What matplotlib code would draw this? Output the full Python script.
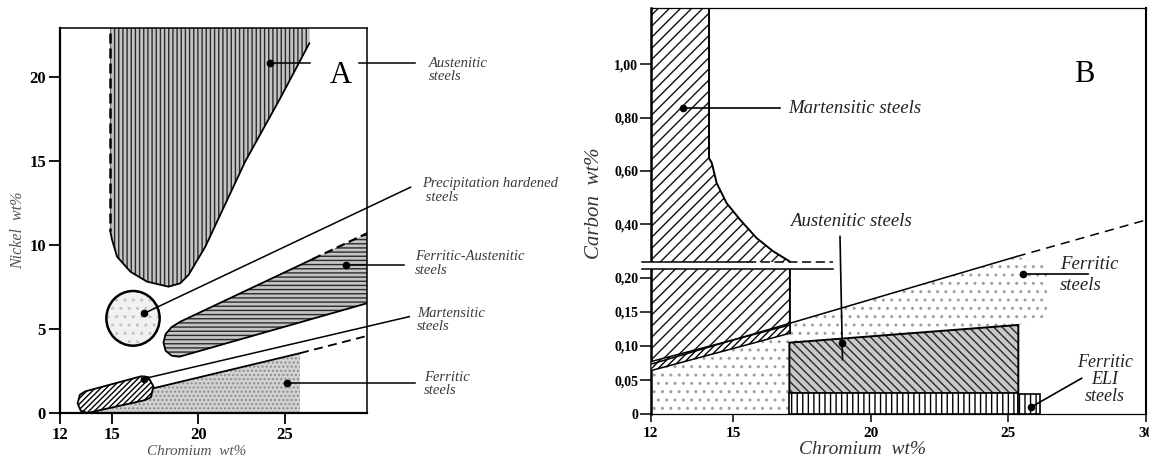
import numpy as np
import matplotlib.pyplot as plt
from matplotlib.patches import Polygon, Ellipse

plt.rcParams['font.family'] = ['Liberation Serif', 'DejaVu Serif']
plt.rcParams['hatch.linewidth'] = 1.0

# ---------------- panel A : Nickel vs Chromium ----------------
a_xticks = [12, 15, 20, 25]
a_yticks = [0, 5, 10, 15, 20]

# austenitic field (first edge dashed)
a_aus_cr = [14.91, 14.91, 15.01, 15.30, 16.07, 17.03, 18.27, 18.95, 19.43, 20.4, 22.7, 24.72, 26.41, 26.41]
a_aus_ni = [23.5, 10.8, 10.3, 9.3, 8.41, 7.82, 7.52, 7.72, 8.22, 9.9, 14.95, 18.7, 21.98, 23.5]

# precipitation hardened (circle)
a_ph_center = (16.22, 5.64)
a_ph_size = (3.08, 3.25)

# ferritic-austenitic band (last edge dashed)
a_fa_cr = [29.76, 18.9, 18.45, 18.1, 17.98, 18.1, 18.45, 18.95, 26.6, 29.76]
a_fa_ni = [6.54, 3.36, 3.42, 3.72, 4.2, 4.7, 5.12, 5.44, 9.16, 10.7]

# martensitic capsule
a_mar_cr = [13.02, 13.15, 13.45, 16.7, 17.1, 17.4, 17.25, 16.9, 13.6, 13.2]
a_mar_ni = [0.59, 1.1, 1.3, 2.2, 2.15, 1.6, 0.95, 0.78, 0.02, 0.15]

# ferritic field and its upper boundary
a_fer_cr = [13.6, 17.41, 25.87, 25.87]
a_fer_ni = [0.0, 1.49, 3.57, 0.0]
a_ferline_cr = [17.41, 25.87, 29.76]
a_ferline_ni = [1.49, 3.57, 4.6]

# leaders: (start x, start y, end x, end y)
a_labels = ['Austenitic\nsteels', 'Precipitation hardened\n steels', 'Ferritic-Austenitic\nsteels',
            'Martensitic\nsteels', 'Ferritic\nsteels']
a_lead_x0 = [29.3, 16.87, 28.53, 16.83, 25.1]
a_lead_y0 = [20.8, 5.94, 8.81, 2.05, 1.82]
a_lead_x1 = [32.5, 32.26, 31.88, 32.18, 32.51]
a_lead_y1 = [20.8, 13.43, 8.81, 5.74, 1.82]
a_lab_x = [33.31, 32.9, 32.51, 32.64, 33.03]
a_lab_y = [20.4, 13.24, 8.91, 5.53, 1.75]
a_dots_x = [24.14, 16.87, 28.53, 16.83, 25.1]
a_dots_y = [20.8, 5.94, 8.81, 2.05, 1.82]

# ---------------- panel B : Carbon vs Chromium ----------------
b_xticks = [12, 15, 20, 25, 30]
b_yticks = [0, 0.05, 0.10, 0.15, 0.20, 0.40, 0.60, 0.80, 1.00]
b_yticklabels = ['0', '0,05', '0,10', '0,15', '0,20', '0,40', '0,60', '0,80', '1,00']

b_mar_cr = [12, 14.12, 14.12, 14.22, 14.40, 14.76, 15.25, 15.85, 16.46, 17.06, 17.06, 12]
b_mar_c = [1.3, 1.3, 0.648, 0.630, 0.554, 0.479, 0.417, 0.348, 0.298, 0.260, 0.1186, 0.0638]
b_band_cr = [12, 17.06, 17.06, 12]
b_band_c = [0.0638, 0.1186, 0.1307, 0.077]

b_fer_cr = [12, 12, 25.3, 26.4, 26.4, 17.06, 17.06]
b_fer_c = [0, 0.073, 0.279, 0.25, 0.135, 0.105, 0]
b_ferline_cr = [12, 25.3, 30]
b_ferline_c = [0.0732, 0.279, 0.416]

b_aus_cr = [17.04, 25.36, 25.36, 17.04]
b_aus_c = [0.0307, 0.0307, 0.1307, 0.1048]

b_eli_left = [17.04, 25.36]
b_eli_width = [8.32, 0.79]
b_eli_top = [0.0307, 0.029]

b_break_x = [11.67, 18.64]
b_break_lo, b_break_hi = 0.2315, 0.2578

b_labels = ['Martensitic steels', 'Austenitic steels', 'Ferritic\nsteels', 'Ferritic\nELI\nsteels']
b_lab_x = [17.0, 19.27, 26.87, 28.51]
b_lab_y = [0.836, 0.410, 0.210, 0.0502]
b_lead_x0 = [13.18, 18.88, 25.54, 25.81]
b_lead_y0 = [0.836, 0.354, 0.2128, 0.0102]
b_lead_x1 = [16.70, 18.97, 27.9, 27.66]
b_lead_y1 = [0.836, 0.080, 0.2128, 0.0527]
b_dots_x = [13.18, 18.95, 25.54, 25.81]
b_dots_y = [0.836, 0.104, 0.2128, 0.0102]


def region(ax, xs, ys, hatch, hc, face='white', z=2):
    pts = np.column_stack([xs, ys])
    ax.add_patch(Polygon(pts, closed=True, facecolor=face, edgecolor=hc, lw=0, hatch=hatch, zorder=z))


fig = plt.figure(figsize=(11.49, 4.59), dpi=100)

# ======== A ========
axA = fig.add_axes([0.0522, 0.0996, 0.2675, 0.8388])
axA.set_xlim(12, 29.76)
axA.set_ylim(0, 22.87)

region(axA, a_fer_cr, a_fer_ni, '....', '#8c8c8c', face='#d2d2d2')
region(axA, a_aus_cr, a_aus_ni, '||||', '#2a2a2a', face='#c4c4c4')
axA.plot(a_aus_cr[:2], a_aus_ni[:2], color='k', lw=1.8, ls=(0, (4, 2)), zorder=3)
axA.plot(a_aus_cr[1:-1], a_aus_ni[1:-1], color='k', lw=1.3, zorder=3)

region(axA, a_fa_cr, a_fa_ni, '----', '#2a2a2a', face='#c4c4c4')
axA.plot(a_fa_cr[:-1], a_fa_ni[:-1], color='k', lw=1.3, zorder=3)
axA.plot(a_fa_cr[-2:], a_fa_ni[-2:], color='k', lw=1.6, ls=(0, (4, 2)), zorder=3)

axA.add_patch(Ellipse(a_ph_center, a_ph_size[0], a_ph_size[1], facecolor='#f1f1f1',
                      edgecolor='#c4c4c4', lw=0, hatch='..', zorder=2))
axA.add_patch(Ellipse(a_ph_center, a_ph_size[0], a_ph_size[1], facecolor='none',
                      edgecolor='k', lw=1.8, zorder=3))

axA.plot(a_ferline_cr[:2], a_ferline_ni[:2], color='k', lw=1.3, zorder=3)
axA.plot(a_ferline_cr[1:], a_ferline_ni[1:], color='k', lw=1.3, ls=(0, (5, 3)), zorder=3)

axA.add_patch(Polygon(np.column_stack([a_mar_cr, a_mar_ni]), closed=True, facecolor='white',
                      edgecolor='k', lw=1.3, hatch='//////', zorder=4))

for i in range(len(a_labels)):
    axA.plot([a_lead_x0[i], a_lead_x1[i]], [a_lead_y0[i], a_lead_y1[i]], color='k', lw=1.1,
             clip_on=False, zorder=5)
    axA.text(a_lab_x[i], a_lab_y[i], a_labels[i], style='italic', fontsize=10.5, color='#3a3a3a',
             ha='left', va='center', linespacing=1.05)
axA.plot([a_dots_x[0], 26.46], [a_lead_y0[0], a_lead_y0[0]], color='k', lw=1.1, zorder=5)
axA.plot(a_dots_x, a_dots_y, 'o', color='k', ms=4.5, zorder=6)
axA.text(28.24, 20.04, 'A', fontsize=22, ha='center', va='center')

axA.set_xticks(a_xticks)
axA.set_yticks(a_yticks)
axA.tick_params(direction='out', length=8, width=1.3, labelsize=12, pad=2)
for lab in axA.get_xticklabels() + axA.get_yticklabels():
    lab.set_fontweight('bold')
for s in axA.spines.values():
    s.set_linewidth(1.1)
axA.spines['left'].set_linewidth(1.6)
axA.spines['bottom'].set_linewidth(1.6)
fig.text(0.1712, 0.017, 'Chromium  wt%', style='italic', fontsize=11, color='#555555',
         ha='center', va='center')
fig.text(0.0159, 0.499, 'Nickel  wt%', style='italic', fontsize=11.5, color='#555555',
         ha='center', va='center', rotation=90)

# ======== B ========
def fwd(y):
    y = np.asarray(y, dtype=float)
    return np.where(y <= 0.2, y, 0.2 + (y - 0.2) * 0.39)


def inv(t):
    t = np.asarray(t, dtype=float)
    return np.where(t <= 0.2, t, 0.2 + (t - 0.2) / 0.39)


axB = fig.add_axes([0.5663, 0.0974, 0.4311, 0.8845])
axB.set_yscale('function', functions=(fwd, inv))
axB.set_xlim(12, 30)
axB.set_ylim(0, 1.21)

region(axB, b_fer_cr, b_fer_c, '..', '#a0a0a0')
region(axB, b_mar_cr, b_mar_c, '///', '#111111')
axB.plot(b_mar_cr[1:-1], b_mar_c[1:-1], color='k', lw=1.4, zorder=3)
axB.add_patch(Polygon(np.column_stack([b_band_cr, b_band_c]), closed=True, facecolor='white',
                      edgecolor='k', lw=1.1, hatch='/////', zorder=3))
axB.plot(b_ferline_cr[:2], b_ferline_c[:2], color='k', lw=1.1, zorder=3)
axB.plot(b_ferline_cr[1:], b_ferline_c[1:], color='k', lw=1.1, ls=(0, (6, 4)), zorder=3)

region(axB, b_aus_cr, b_aus_c, '\\\\\\\\', '#2a2a2a', face='#c8c8c8', z=3)
axB.add_patch(Polygon(np.column_stack([b_aus_cr, b_aus_c]), closed=True, facecolor='none',
                      edgecolor='k', lw=1.4, zorder=4))
axB.bar(b_eli_left, b_eli_top, width=b_eli_width, align='edge', color='white',
        edgecolor='k', lw=1.2, hatch='|||', zorder=4)

# axis break
axB.fill_between(b_break_x, b_break_lo, b_break_hi, color='white', lw=0, zorder=5, clip_on=False)
axB.plot(b_break_x, [b_break_lo, b_break_lo], color='k', lw=1.1, zorder=6, clip_on=False)
axB.plot([b_break_x[0], 15.5], [b_break_hi, b_break_hi], color='k', lw=1.1, zorder=6, clip_on=False)
axB.plot([15.5, b_break_x[1]], [b_break_hi, b_break_hi], color='k', lw=1.1, zorder=6,
         ls=(0, (6, 3)), clip_on=False)

for i in range(len(b_labels)):
    axB.plot([b_lead_x0[i], b_lead_x1[i]], [b_lead_y0[i], b_lead_y1[i]], color='k', lw=1.2,
             clip_on=False, zorder=7)
axB.plot(b_dots_x, b_dots_y, 'o', color='k', ms=4.5, zorder=8)
axB.text(b_lab_x[0], b_lab_y[0], b_labels[0], style='italic', fontsize=13.5, color='#222222',
         ha='left', va='center')
axB.text(b_lab_x[1], b_lab_y[1], b_labels[1], style='italic', fontsize=13.5, color='#222222',
         ha='center', va='center')
axB.text(b_lab_x[2], b_lab_y[2], b_labels[2], style='italic', fontsize=13.5, color='#222222',
         ha='left', va='center', linespacing=1.3)
axB.text(b_lab_x[3], b_lab_y[3], b_labels[3], style='italic', fontsize=13, color='#222222',
         ha='center', va='center', multialignment='center', linespacing=1.0)
axB.text(27.75, 0.961, 'B', fontsize=22, ha='center', va='center')

axB.set_xticks(b_xticks)
axB.set_yticks(b_yticks)
axB.set_yticklabels(b_yticklabels)
axB.minorticks_off()
axB.tick_params(axis='y', direction='out', length=8, width=1.1, labelsize=10, pad=1)
axB.tick_params(axis='x', direction='out', length=6, width=1.1, labelsize=11, pad=3)
for lab in axB.get_xticklabels() + axB.get_yticklabels():
    lab.set_fontweight('bold')
for s in axB.spines.values():
    s.set_linewidth(0.9)
axB.spines['left'].set_linewidth(1.8)
axB.spines['right'].set_linewidth(1.5)
fig.text(0.751, 0.02, 'Chromium  wt%', style='italic', fontsize=14, color='#333333',
         ha='center', va='center')
fig.text(0.5178, 0.557, 'Carbon  wt%', style='italic', fontsize=15, color='#333333',
         ha='center', va='center', rotation=90)

fig.savefig('out.png', dpi=100)
